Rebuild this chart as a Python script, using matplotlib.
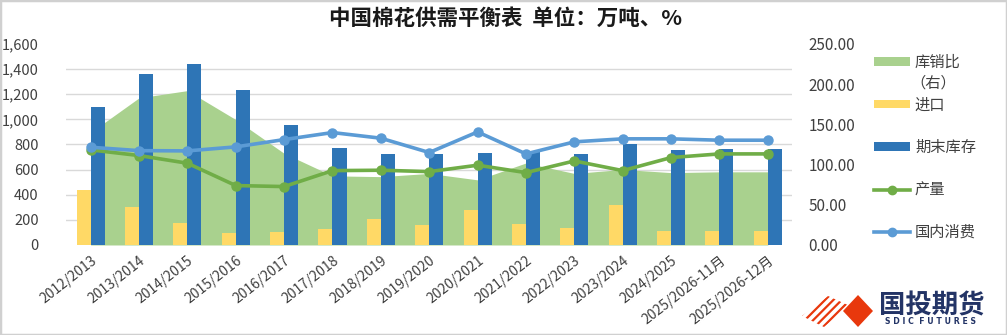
import numpy as np
import matplotlib
matplotlib.use('Agg')
import matplotlib.pyplot as plt
from matplotlib.patches import Patch, Polygon, Rectangle
from matplotlib.lines import Line2D
from matplotlib.ticker import FuncFormatter, MultipleLocator

plt.rcParams['font.family'] = ['Noto Sans CJK SC', 'DejaVu Sans']
plt.rcParams['hatch.linewidth'] = 1.6

seasons = ['2012/2013', '2013/2014', '2014/2015', '2015/2016', '2016/2017',
           '2017/2018', '2018/2019', '2019/2020', '2020/2021', '2021/2022',
           '2022/2023', '2023/2024', '2024/2025', '2025/2026-11月', '2025/2026-12月']

# 万吨
imports = [438, 305, 178, 93, 106, 125, 210, 159, 279, 167, 138, 321, 114, 114, 114]
ending_stock = [1095, 1365, 1440, 1235, 955, 775, 723, 723, 733, 740, 725, 800, 755, 763, 763]
production = [757, 712, 651, 473, 465, 592, 595, 584, 635, 576, 669, 592, 696, 725, 725]
consumption = [778, 751, 749, 781, 839, 895, 850, 736, 900, 725, 821, 845, 845, 834, 834]
# 库销比 (%), right axis
stock_ratio = [140, 183, 192, 156, 114, 86, 85, 89, 81, 102, 89, 94, 90, 91, 91]

C_AREA = '#A9D18E'
C_IMPORT = '#FFD966'
C_STOCK = '#2E75B6'
C_PROD = '#70AD47'
C_CONS = '#5B9BD5'
C_GRID = '#D9D9D9'

fig = plt.figure(figsize=(10.07, 3.35), dpi=100)
ax = fig.add_axes([0.066, 0.2687, 0.7205, 0.60])
ax2 = ax.twinx()

x = np.arange(len(seasons))
w = 0.29

# area sits on the right axis, behind everything else
ax2.fill_between(x, stock_ratio, 0, color=C_AREA, lw=0, zorder=1)
ax2.set_ylim(0, 250)
ax2.yaxis.set_major_locator(MultipleLocator(50))
ax2.yaxis.set_minor_locator(MultipleLocator(250 / 8))
ax2.yaxis.set_major_formatter(FuncFormatter(lambda v, p: f'{v:.2f}'))
ax2.grid(which='minor', axis='y', color=C_GRID, lw=1, zorder=0)
ax2.set_axisbelow(True)
ax2.tick_params(axis='y', which='both', length=0, pad=12, labelsize=11, colors='#404040')

ax.set_zorder(ax2.get_zorder() + 1)
ax.patch.set_visible(False)

ax.bar(x - w / 2, imports, w, color=C_IMPORT, zorder=2)
ax.bar(x + w / 2, ending_stock, w, color=C_STOCK, zorder=2)
ax.plot(x, production, color=C_PROD, lw=2.6, marker='o', ms=6.5, zorder=3)
ax.plot(x, consumption, color=C_CONS, lw=2.6, marker='o', ms=6.5, zorder=4)

ax.set_xlim(-0.5, len(seasons) - 0.5)
ax.set_ylim(0, 1600)
ax.yaxis.set_major_locator(MultipleLocator(200))
ax.yaxis.set_major_formatter(FuncFormatter(lambda v, p: f'{int(v):,}'))
ax.tick_params(axis='y', length=0, pad=20, labelsize=10.5, colors='#404040')
ax.set_xticks(x)
ax.set_xticklabels(seasons, rotation=38, ha='right', va='top',
                   rotation_mode='anchor', fontsize=10, color='#404040')
ax.tick_params(axis='x', length=0, pad=6)

for a in (ax, ax2):
    for s in a.spines.values():
        s.set_visible(False)

fig.text(0.502, 0.946, '中国棉花供需平衡表  单位：万吨、%', ha='center', va='center',
         fontsize=15.5, fontweight='bold', color='#1A1A1A')

handles = [
    Patch(facecolor=C_AREA, edgecolor='none'),
    Patch(facecolor=C_IMPORT, edgecolor='none'),
    Patch(facecolor=C_STOCK, edgecolor='none'),
    Line2D([], [], color=C_PROD, lw=2.6, marker='o', ms=6),
    Line2D([], [], color=C_CONS, lw=2.6, marker='o', ms=6),
]
labels = ['库销比', '进口', '期末库存', '产量', '国内消费']
leg = fig.legend(handles, labels, loc='upper left', bbox_to_anchor=(0.860, 0.862),
                 frameon=False, fontsize=11, handlelength=2.4, handleheight=0.45,
                 handletextpad=0.3, labelspacing=1.67, borderpad=0, labelcolor='#404040')
fig.text(0.904, 0.752, '（右）', ha='left', va='center', fontsize=11, color='#404040')

# company logo, bottom right
red = '#E8380D'
fig.patches.append(Polygon([[843 / 1007, 1 - 311 / 335], [858 / 1007, 1 - 295 / 335],
                            [873 / 1007, 1 - 311 / 335], [858 / 1007, 1 - 327 / 335]],
                           closed=True, transform=fig.transFigure, facecolor=red,
                           edgecolor='none', zorder=5))
stripes = Polygon([[802 / 1007, 1 - 316 / 335], [828 / 1007, 1 - 296 / 335],
                   [850 / 1007, 1 - 306 / 335], [824 / 1007, 1 - 327 / 335]],
                  closed=True, transform=fig.transFigure, facecolor='none',
                  edgecolor=red, lw=0, hatch='////', zorder=4)
fig.patches.append(stripes)
fig.text(879 / 1007, 1 - 306 / 335, '国投期货', ha='left', va='center',
         fontsize=19, fontweight='bold', color='#233466')
fig.text(885 / 1007, 1 - 322 / 335, 'S D I C  F U T U R E S', ha='left', va='center',
         fontsize=5.6, fontweight='bold', color='#233466', family='DejaVu Sans')

fig.patches.append(Rectangle((0, 0), 1, 1, transform=fig.transFigure, fill=False,
                             edgecolor='#D0D0D0', lw=2.5))

fig.savefig('out.png', dpi=100)
